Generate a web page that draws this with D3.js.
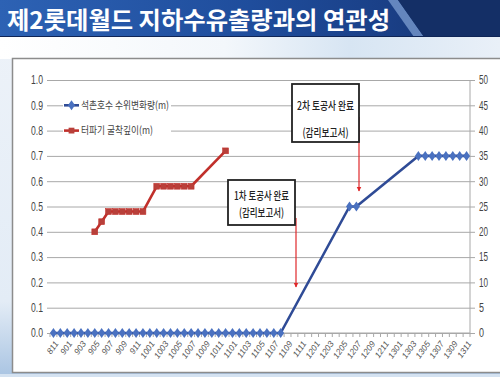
<!DOCTYPE html>
<html><head><meta charset="utf-8">
<script src="https://cdn.jsdelivr.net/npm/d3@7/dist/d3.min.js"></script>
<style>html,body{margin:0;padding:0;background:#fff;overflow:hidden}</style>
</head><body>
<svg id="c" width="500" height="377"></svg>
<script>
const title = "제2롯데월드 지하수유출량과의 연관성";
const categories = ["811","812","901","902","903","904","905","906","907","908","909","910","911","912",
"1001","1002","1003","1004","1005","1006","1007","1008","1009","1010","1011","1012",
"1101","1102","1103","1104","1105","1106","1107","1108","1109","1110","1111","1112",
"1201","1202","1203","1204","1205","1206","1207","1208","1209","1210","1211","1212",
"1301","1302","1303","1304","1305","1306","1307","1308","1309","1310","1311"];
const tickLabels = ["811","901","903","905","907","909","911","1001","1003","1005","1007","1009","1011",
"1101","1103","1105","1107","1109","1111","1201","1203","1205","1207","1209","1211",
"1301","1303","1305","1307","1309","1311"];
const seriesNames = ["석촌호수 수위변화량(m)", "터파기 굴착깊이(m)"];
// water level change (left axis, m)
const waterLevel = [0,0,0,0,0,0,0,0,0,0,0,0,0,0,0,0,0,0,0,0,0,0,0,0,0,0,0,0,0,0,0,0,0,0,
null,null,null,null,null,null,null,null,null,0.5,0.5,null,null,null,null,null,null,null,null,
0.7,0.7,0.7,0.7,0.7,0.7,0.7,0.7];
// excavation depth (right axis, m)
const excavation = [null,null,null,null,null,null,20,22,24,24,24,24,24,24,null,29,29,29,29,29,29,
null,null,null,null,36];
const leftTicks = [0,0.1,0.2,0.3,0.4,0.5,0.6,0.7,0.8,0.9,1.0];
const rightTicks = [0,5,10,15,20,25,30,35,40,45,50];
const notes = [
  {at:"1108", lines:["1차 토공사 완료","(감리보고서)"]},
  {at:"1207", lines:["2차 토공사 완료","(감리보고서)"]}
];

const svg = d3.select("#c");
const defs = svg.append("defs");
const g1 = defs.append("linearGradient").attr("id","ban").attr("x1","0").attr("x2","1");
g1.append("stop").attr("offset","0").attr("stop-color","#2d62b4");
g1.append("stop").attr("offset","0.5").attr("stop-color","#1f4d9c");
g1.append("stop").attr("offset","0.78").attr("stop-color","#1a3f86");
g1.append("stop").attr("offset","1").attr("stop-color","#13306a");
const g2 = defs.append("linearGradient").attr("id","sky").attr("x1","0").attr("x2","1");
g2.append("stop").attr("offset","0").attr("stop-color","#ffffff");
g2.append("stop").attr("offset","0.45").attr("stop-color","#f3f7fb");
g2.append("stop").attr("offset","0.7").attr("stop-color","#d7e5f3");
g2.append("stop").attr("offset","1").attr("stop-color","#e9f0f8");
const g3 = defs.append("linearGradient").attr("id","side").attr("x1","0").attr("x2","0").attr("y1","0").attr("y2","1");
g3.append("stop").attr("offset","0").attr("stop-color","#eef3f9");
g3.append("stop").attr("offset","0.8").attr("stop-color","#e3ecf6");
g3.append("stop").attr("offset","1").attr("stop-color","#a9c4e2");

// backgrounds
svg.append("rect").attr("width",500).attr("height",377).attr("fill","url(#side)");
svg.append("rect").attr("y",37).attr("width",500).attr("height",22).attr("fill","url(#sky)");
svg.append("rect").attr("width",500).attr("height",37).attr("fill","url(#ban)");
svg.append("polygon").attr("points","388,0 398,0 424,37 414,37").attr("fill","#7d9fd1").attr("opacity",0.75);
svg.append("polygon").attr("points","398,0 500,0 500,37 424,37").attr("fill","#142f66");
svg.append("line").attr("x1",0).attr("x2",500).attr("y1",36.5).attr("y2",36.5).attr("stroke","#0f2556").attr("stroke-width",1);
svg.append("text").attr("x",7).attr("y",29).text(title)
  .attr("font-family","Noto Sans CJK KR").attr("font-weight","bold").attr("font-size",24)
  .attr("fill","#fff").attr("textLength",383).attr("lengthAdjust","spacingAndGlyphs");

// chart frame
svg.append("rect").attr("x",12.5).attr("y",58.5).attr("width",492).attr("height",314)
  .attr("fill","#fff").attr("stroke","#8c8c8c").attr("stroke-width",1.5);
svg.append("rect").attr("x",0).attr("y",374).attr("width",500).attr("height",3).attr("fill","#d4e2f1");

const L = 50, R = 470, T = 80, B = 333;
const x = d3.scaleBand().domain(categories).range([L,R]);
const cx = c => x(c) + x.bandwidth()/2;
const yL = d3.scaleLinear().domain([0,1]).range([B,T]);
const yR = d3.scaleLinear().domain([0,50]).range([B,T]);
const narrow = "Liberation Sans Narrow, Arial Narrow, Liberation Sans, sans-serif";

// gridlines + left axis
const axL = d3.axisLeft(yL).tickValues(leftTicks).tickFormat(d3.format(".1f")).tickSize(-(R-L)).tickPadding(7);
const gL = svg.append("g").attr("transform",`translate(${L},0)`).call(axL);
gL.select(".domain").remove();
gL.selectAll("line").attr("stroke","#a8a8a8").attr("x1",-3);
gL.selectAll("text").attr("font-family",narrow)
  .attr("font-size",12).attr("fill","#444").attr("textLength",12).attr("lengthAdjust","spacingAndGlyphs");

// right axis
const axR = d3.axisRight(yR).tickValues(rightTicks).tickSize(5).tickPadding(4);
const gR = svg.append("g").attr("transform",`translate(${R},0)`).call(axR);
gR.select(".domain").attr("stroke","#a8a8a8").attr("d",`M0,${T}V${B}`);
gR.selectAll("line").attr("stroke","#a8a8a8");
gR.selectAll("text").attr("font-family",narrow)
  .attr("font-size",12).attr("fill","#444").attr("textLength",d=>d<10?5:9).attr("lengthAdjust","spacingAndGlyphs");

// x axis
const gX = svg.append("g").attr("transform",`translate(0,${B})`);
gX.append("line").attr("x1",L).attr("x2",R).attr("stroke","#a8a8a8");
gX.selectAll("line.tk").data(categories.concat(["_end"])).join("line").attr("class","tk")
  .attr("x1",(d,i)=> i<categories.length ? x(d) : R).attr("x2",(d,i)=> i<categories.length ? x(d) : R)
  .attr("y1",0).attr("y2",4).attr("stroke","#a8a8a8");
gX.selectAll("text").data(tickLabels).join("text")
  .attr("transform",d=>`translate(${cx(d)+3},${9}) rotate(-55)`)
  .attr("text-anchor","end").attr("dy","0.35em")
  .attr("font-family",narrow).attr("font-style","italic").attr("font-size",8.5).attr("fill","#555")
  .text(d=>d);

// series
const bluePts = categories.map((c,i)=>({c, v:waterLevel[i]})).filter(d=>d.v!=null);
const redPts = categories.map((c,i)=>({c, v:excavation[i]})).filter(d=>d.v!=null && d.v!==undefined);
const line = (ys)=>d3.line().x(d=>cx(d.c)).y(d=>ys(d.v));
const diamond = "M0,-5L3.5,0L0,5L-3.5,0Z";

svg.append("path").datum(redPts).attr("d",line(yR)).attr("fill","none")
  .attr("stroke","#c1302b").attr("stroke-width",2.6).attr("stroke-linejoin","round");
svg.selectAll("rect.rm").data(redPts).join("rect").attr("class","rm")
  .attr("x",d=>cx(d.c)-2.9).attr("y",d=>yR(d.v)-2.9).attr("width",5.8).attr("height",5.8)
  .attr("fill","#b8403a").attr("stroke","#c1302b").attr("stroke-width",0.6);

svg.append("path").datum(bluePts).attr("d",line(yL)).attr("fill","none")
  .attr("stroke","#2f4b96").attr("stroke-width",2.6).attr("stroke-linejoin","round");
svg.selectAll("path.bm").data(bluePts).join("path").attr("class","bm")
  .attr("transform",d=>`translate(${cx(d.c)},${yL(d.v)})`)
  .attr("d",diamond).attr("fill","#4a71c0");

// legend
const lg = svg.append("g");
lg.append("rect").attr("x",63).attr("y",94).attr("width",108).attr("height",46).attr("fill","#fff");
const lrows = [{name:seriesNames[0], y:yL(0.9), color:"#2f4b96", w:88},{name:seriesNames[1], y:yL(0.8), color:"#c1302b", w:72}];
lrows.forEach((r,i)=>{
  lg.append("line").attr("x1",64).attr("x2",79).attr("y1",r.y).attr("y2",r.y).attr("stroke",r.color).attr("stroke-width",2.6);
  if(i===0) lg.append("path").attr("transform",`translate(71.5,${r.y})`).attr("d",diamond).attr("fill","#4a71c0");
  else lg.append("rect").attr("x",68.6).attr("y",r.y-2.9).attr("width",5.8).attr("height",5.8).attr("fill","#b8403a");
  lg.append("text").attr("x",81).attr("y",r.y).attr("dy","0.36em").text(r.name)
    .attr("font-family","Noto Sans CJK KR").attr("font-size",10.5).attr("fill","#444")
    .attr("textLength",r.w).attr("lengthAdjust","spacingAndGlyphs");
});

// annotations
defs.append("marker").attr("id","ah").attr("viewBox","0 0 10 10").attr("refX",9).attr("refY",5)
  .attr("markerWidth",5).attr("markerHeight",6).attr("markerUnits","userSpaceOnUse").attr("orient","auto")
  .append("path").attr("d","M0,0L10,5L0,10Z").attr("fill","#e0282a");
const boxes = [
  {x:228, y:180, w:67, h:45, ax:296, ay1:218, ay2:287, t1:196, t2:213, l1:55, l2:45},
  {x:292, y:84, w:67, h:58, ax:359, ay1:117, ay2:191, t1:106, t2:133, l1:57, l2:46}
];
boxes.forEach((b,i)=>{
  svg.append("line").attr("x1",b.ax).attr("x2",b.ax).attr("y1",b.ay1).attr("y2",b.ay2)
    .attr("stroke","#e0282a").attr("stroke-width",1.2).attr("marker-end","url(#ah)");
  svg.append("rect").attr("x",b.x).attr("y",b.y).attr("width",b.w).attr("height",b.h)
    .attr("fill","#fff").attr("stroke","#222").attr("stroke-width",1.8);
  notes[i].lines.forEach((t,j)=>{
    svg.append("text").attr("x",b.x+b.w/2).attr("y",j===0?b.t1:b.t2).attr("dy","0.36em")
      .attr("text-anchor","middle").text(t)
      .attr("font-family","Noto Sans CJK KR").attr("font-weight","500").attr("font-size",11.5).attr("fill","#222")
      .attr("textLength",j===0?b.l1:b.l2).attr("lengthAdjust","spacingAndGlyphs");
  });
});
</script>
</body></html>
